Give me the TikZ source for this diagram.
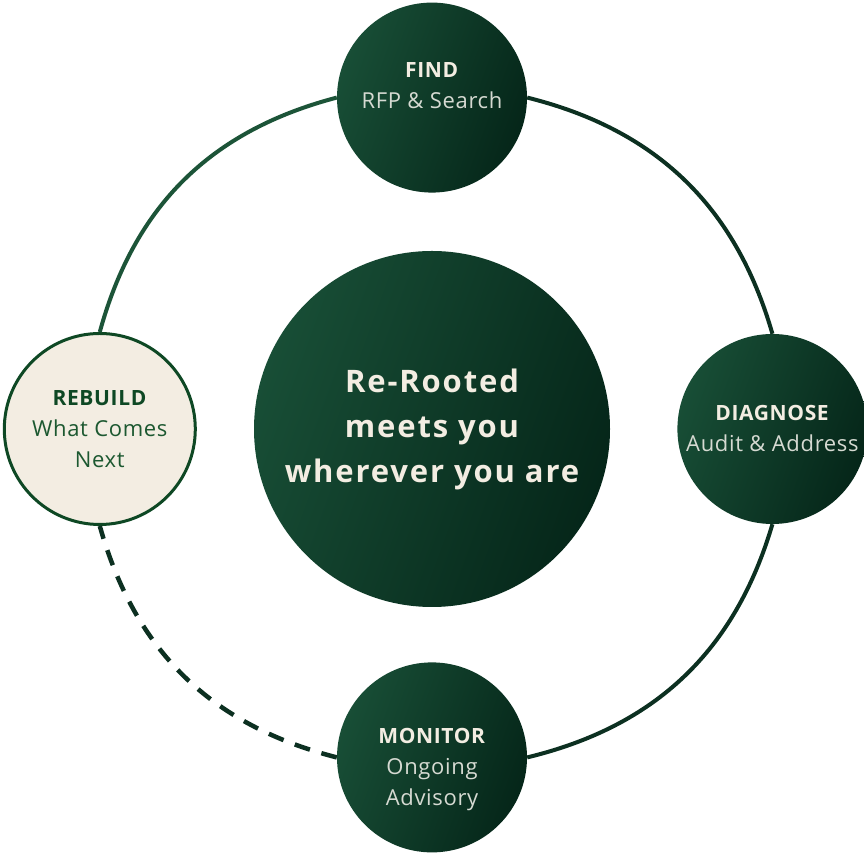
\documentclass[tikz,border=0pt]{standalone}
\usepackage{fontspec}
\setmainfont{Open Sans}
\newfontfamily\hubfont{Open Sans}[LetterSpace=6]
\newfontfamily\phasefont{Open Sans}[LetterSpace=3]
\usetikzlibrary{positioning}
\definecolor{DeepGreen}{RGB}{24,78,54}
\definecolor{NightGreen}{RGB}{5,38,25}
\definecolor{Cream}{RGB}{243,237,226}
\definecolor{Mist}{RGB}{214,218,210}
\definecolor{RingGreen}{RGB}{28,84,56}
\definecolor{RingDark}{RGB}{12,48,33}
\definecolor{EdgeGreen}{RGB}{14,72,36}
\definecolor{LeafGreen}{RGB}{28,88,48}
\tikzset{
  hub/.style={circle, left color=DeepGreen, right color=NightGreen,
    shading angle=70, minimum size=356pt, inner sep=0pt, align=center,
    text=Cream, font=\hubfont\fontsize{31}{45}\selectfont\bfseries},
  phase/.style={circle, left color=DeepGreen, right color=NightGreen,
    shading angle=70, minimum size=190pt, inner sep=0pt, align=center,
    text=Mist, font=\phasefont\fontsize{22}{31}\selectfont},
  rebuildbox/.style={circle, draw=EdgeGreen, line width=3pt, fill=Cream,
    minimum size=191pt, inner sep=0pt, align=center, text=LeafGreen,
    font=\phasefont\fontsize{22}{31}\selectfont},
  ring/.style={line width=4pt, RingDark},
  dashring/.style={ring, line width=4.5pt, dash pattern=on 16pt off 12pt}
}

\begin{document}
\begin{tikzpicture}[x=1pt, y=1pt, node distance=60pt]
  \useasboundingbox (0,0) rectangle (864,853);
  \node[hub] (hub) at (432,424) {Re-Rooted\\meets you\\wherever you are};
  \node[phase, text depth=24pt, above=58pt of hub] (find) {
    \textcolor{Cream}{\textbf{\fontsize{21}{31}\selectfont FIND}}\\
    RFP \& Search
  };
  \node[phase, right=67pt of hub] (diagnose) {
    \textcolor{Cream}{\textbf{\fontsize{21}{31}\selectfont DIAGNOSE}}\\
    Audit \& Address
  };
  \node[phase, text height=102pt, below=55pt of hub] (monitor) {
    \textcolor{Cream}{\textbf{\fontsize{21}{31}\selectfont MONITOR}}\\
    Ongoing\\
    Advisory
  };
  \node[rebuildbox, left=57pt of hub] (rebuild) {
    \textcolor{EdgeGreen}{\textbf{\fontsize{21}{31}\selectfont REBUILD}}\\
    What Comes\\
    Next
  };
  \draw[ring, RingGreen] (rebuild.north) to[bend left=30] (find.west);
  \draw[ring] (find.east) to[bend left=30] (diagnose.north);
  \draw[ring] (diagnose.south) to[bend left=30] (monitor.east);
  \draw[dashring] (monitor.west) to[bend left=30] (rebuild.south);
\end{tikzpicture}
\end{document}
